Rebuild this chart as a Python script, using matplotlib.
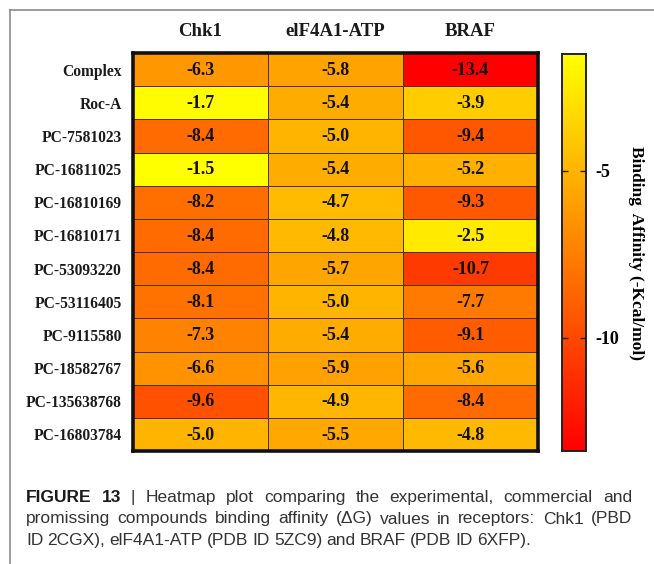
import numpy as np
import matplotlib
matplotlib.use("Agg")
import matplotlib.pyplot as plt
from matplotlib.lines import Line2D

# binding affinity (kcal/mol) per compound and receptor
compounds = ["Complex", "Roc-A", "PC-7581023", "PC-16811025", "PC-16810169",
             "PC-16810171", "PC-53093220", "PC-53116405", "PC-9115580",
             "PC-18582767", "PC-135638768", "PC-16803784"]
receptors = ["Chk1", "elF4A1-ATP", "BRAF"]
chk1 = [-6.3, -1.7, -8.4, -1.5, -8.2, -8.4, -8.4, -8.1, -7.3, -6.6, -9.6, -5.0]
eif4a1 = [-5.8, -5.4, -5.0, -5.4, -4.7, -4.8, -5.7, -5.0, -5.4, -5.9, -4.9, -5.5]
braf = [-13.4, -3.9, -9.4, -5.2, -9.3, -2.5, -10.7, -7.7, -9.1, -5.6, -8.4, -4.8]
cbar_ticks = [-5, -10]

vals = np.array([chk1, eif4a1, braf]).T

W, H = 654, 564
fig = plt.figure(figsize=(W / 100, H / 100), dpi=100)
serif = "Liberation Serif"

def box(x0, y0, x1, y1):
    return [x0 / W, 1 - y1 / H, (x1 - x0) / W, (y1 - y0) / H]

ax = fig.add_axes(box(133, 53, 538, 451))
mesh = ax.pcolormesh(vals, cmap="autumn", vmin=-13.4, vmax=-1.5,
                     edgecolors="#4a3322", linewidth=0.7)
ax.set_xlim(0, 3)
ax.set_ylim(len(compounds), 0)
for i in range(len(compounds)):
    for j in range(3):
        ax.text(j + 0.5, i + 0.52, f"{vals[i, j]:.1f}", ha="center", va="center",
                fontsize=13, fontweight="bold", family=serif, color="#111111")
ax.set_xticks(np.arange(3) + 0.5)
ax.set_xticklabels(receptors)
ax.xaxis.tick_top()
ax.set_yticks(np.arange(len(compounds)) + 0.5)
ax.set_yticklabels(compounds)
ax.tick_params(axis="y", length=0, pad=8)
ax.tick_params(axis="x", length=0, pad=9)
for lab in ax.get_yticklabels():
    lab.set_family(serif)
    lab.set_fontweight("bold")
    lab.set_fontsize(11.2)
    lab.set_color("#1a1a1a")
for lab in ax.get_xticklabels():
    lab.set_family(serif)
    lab.set_fontweight("bold")
    lab.set_fontsize(13.5)
    lab.set_color("#1a1a1a")
for sp in ax.spines.values():
    sp.set_linewidth(2.6)
    sp.set_color("#111111")

cax = fig.add_axes(box(562, 54, 586, 451))
cb = fig.colorbar(mesh, cax=cax, ticks=cbar_ticks)
cb.outline.set_linewidth(1.4)
cb.outline.set_edgecolor("#222222")
cax.yaxis.set_ticks_position("both")
cax.yaxis.set_label_position("right")
cax.tick_params(direction="in", length=4, width=1, color="#222222",
                labelleft=False, labelright=True, pad=7)
cax.set_yticklabels([f"{t}" for t in cbar_ticks], family=serif,
                    fontweight="bold", fontsize=13)
cax.set_ylabel("Binding  Affinity (-Kcal/mol)", rotation=270, family=serif,
               fontweight="bold", fontsize=12.5, labelpad=18)

# frame around the figure panel
fig.add_artist(Line2D([10 / W, 1], [1 - 10 / H, 1 - 10 / H], color="#8c8c8c", lw=1.2))
fig.add_artist(Line2D([10 / W, 10 / W], [1 - 10 / H, 0], color="#8c8c8c", lw=1.2))

# justified caption
sans = "Liberation Sans"
lines = [
    [("FIGURE", "bold"), ("13", "bold"), ("|", "normal"), ("Heatmap", "normal"),
     ("plot", "normal"), ("comparing", "normal"), ("the", "normal"),
     ("experimental,", "normal"), ("commercial", "normal"), ("and", "normal")],
    [(w, "normal") for w in "promissing compounds binding affinity (\u0394G) values in receptors: Chk1 (PBD".split()],
    [(w, "normal") for w in "ID 2CGX), elF4A1-ATP (PDB ID 5ZC9) and BRAF (PDB ID 6XFP).".split()],
]
x_left, x_right = 26, 632
baselines = [502, 523.5, 545]
renderer = fig.canvas.get_renderer()
for k, (words, yb) in enumerate(zip(lines, baselines)):
    texts = [fig.text(0, 1 - yb / H, w, family=sans, fontweight=wt, fontsize=12.5,
                      color="#1a1a1a" if wt == "bold" else "#333333", va="baseline")
             for w, wt in words]
    widths = [t.get_window_extent(renderer).width for t in texts]
    if k < len(lines) - 1:
        gap = (x_right - x_left - sum(widths)) / (len(texts) - 1)
    else:
        gap = 4.2
    x = x_left
    for t, wd in zip(texts, widths):
        t.set_x(x / W)
        x += wd + gap

fig.savefig("out.png", dpi=100)
